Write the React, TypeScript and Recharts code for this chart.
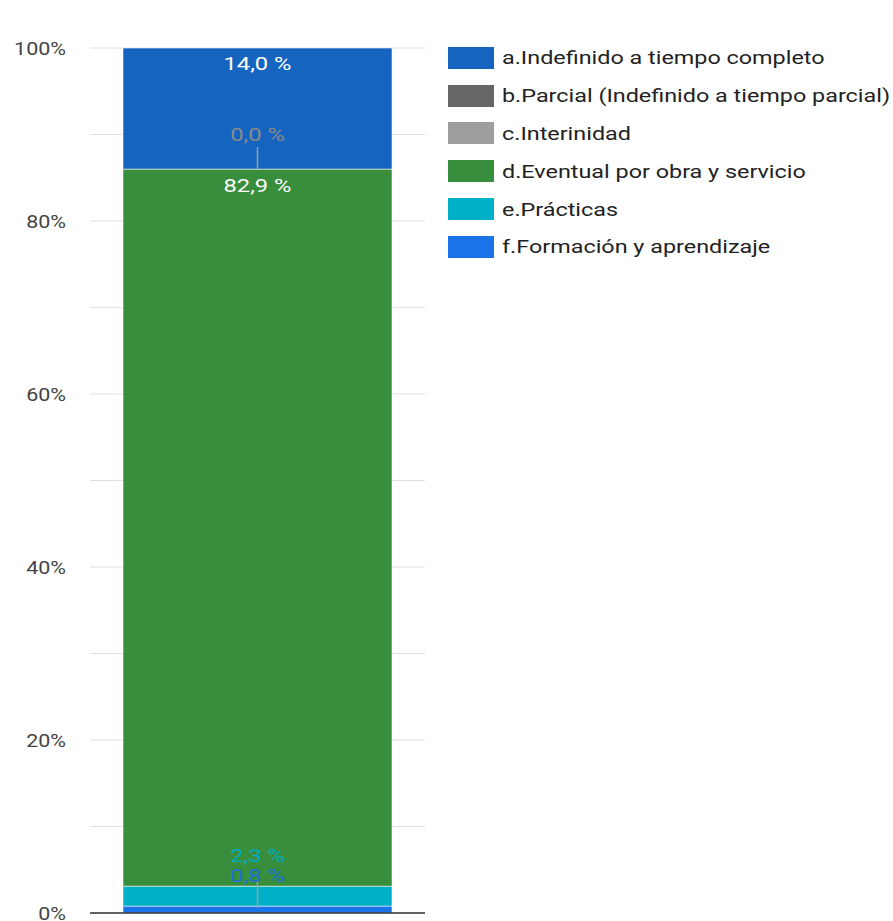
import React from 'react';
import {
  BarChart,
  Bar,
  XAxis,
  YAxis,
  CartesianGrid,
  ReferenceLine,
  ReferenceDot,
  LabelList
} from 'recharts';

const categories = ['Tipo de contrato'];
const seriesKeys = ['a', 'b', 'c', 'd', 'e', 'f'];
const seriesNames = [
  'a.Indefinido a tiempo completo',
  'b.Parcial (Indefinido a tiempo parcial)',
  'c.Interinidad',
  'd.Eventual por obra y servicio',
  'e.Prácticas',
  'f.Formación y aprendizaje',
];
const seriesValues = [14.0, 0.0, 0.0, 82.9, 2.3, 0.8];
const seriesColors = ['#1565c0', '#666666', '#9e9e9e', '#388e3c', '#00b0c6', '#1a73e8'];
const yTicks = [0, 10, 20, 30, 40, 50, 60, 70, 80, 90, 100];

const row: Record<string, string | number> = { name: categories[0] };
seriesKeys.forEach((k, i) => {
  row[k] = seriesValues[i];
});
const data = [row];

// stacked from the bottom: f first, a last
const stackOrder = [...seriesKeys].reverse();
const stackTop = (key: string) => {
  let sum = 0;
  for (const k of stackOrder) {
    sum += seriesValues[seriesKeys.indexOf(k)];
    if (k === key) break;
  }
  return sum;
};

const FONT = 'Roboto, "Noto Sans", sans-serif';
const fmt = (v: number) => `${v.toFixed(1).replace('.', ',')} %`;
const SX = 1.25; // the reference text is a bit wider than plain Roboto

const Wide = ({ x, y, color, children }: any) => (
  <g transform={`translate(${x},${y}) scale(${SX},1)`}>
    <text x={0} y={0} fill={color} fontSize={19} fontFamily={FONT}
      textAnchor="middle" dominantBaseline="central">
      {children}
    </text>
  </g>
);

const insideTop = (color: string, dy: number) => (props: any) => {
  const { x, y, width, value } = props;
  return <Wide x={x + width / 2} y={y + dy} color={color}>{fmt(value)}</Wide>;
};

const labelFor: Record<string, any> = {
  a: insideTop('#ffffff', 15),
  b: () => null,
  c: () => null,
  d: insideTop('#ffffff', 16),
  e: (props: any) => {
    const { x, y, width, value } = props;
    return <Wide x={x + width / 2} y={y - 31} color="#00acc1">{fmt(value)}</Wide>;
  },
  f: (props: any) => {
    const { x, y, width, value } = props;
    const cx = x + width / 2;
    return (
      <g>
        <line x1={cx} x2={cx} y1={y - 26} y2={y + 2} stroke="#9e9e9e" strokeWidth={1.5} />
        <Wide x={cx} y={y - 31} color="#1a6fd8">{fmt(value)}</Wide>
      </g>
    );
  },
};

// zero-height segments get no bar label, so the 0,0 % callout is placed with a reference dot
const ZeroCallout = (props: any) => {
  const { cx, cy } = props;
  return (
    <g>
      <line x1={cx} x2={cx} y1={cy - 22} y2={cy} stroke="#9e9e9e" strokeWidth={1.5} />
      <Wide x={cx} y={cy - 35} color="#8a8a8a">{fmt(seriesValues[1])}</Wide>
    </g>
  );
};

const YTick = (props: any) => {
  const { x, y, payload } = props;
  const v = payload.value as number;
  if (v % 20 !== 0) return null;
  return (
    <g transform={`translate(${x},${y}) scale(1.13,1)`}>
      <text x={0} y={0} fill="#444" fontSize={19} fontFamily={FONT}
        textAnchor="end" dominantBaseline="central">
        {`${v}%`}
      </text>
    </g>
  );
};

const App: React.FC = () => {
  return (
    <div style={{ position: 'absolute', left: 0, top: 0, width: 893, height: 921, background: '#fff' }}>
      <BarChart
        width={893}
        height={921}
        data={data}
        margin={{ top: 48, right: 468, left: 0, bottom: 8 }}
      >
        <CartesianGrid vertical={false} stroke="#e0e0e0" />
        <XAxis dataKey="name" hide />
        <YAxis
          width={90}
          domain={[0, 100]}
          ticks={yTicks}
          interval={0}
          axisLine={false}
          tickLine={false}
          tickMargin={18}
          tick={<YTick />}
        />
        {stackOrder.map((k) => {
          const i = seriesKeys.indexOf(k);
          return (
            <Bar
              key={k}
              dataKey={k}
              name={seriesNames[i]}
              stackId="s"
              fill={seriesColors[i]}
              stroke="rgba(255,255,255,0.55)"
              strokeWidth={1}
              barSize={269}
              isAnimationActive={false}
            >
              <LabelList dataKey={k} content={labelFor[k]} />
            </Bar>
          );
        })}
        <ReferenceLine y={0} stroke="#333" strokeWidth={1.5} />
        <ReferenceDot x={categories[0]} y={stackTop('b')} r={0} shape={<ZeroCallout />} />
      </BarChart>
      <div style={{ position: 'absolute', left: 448, top: 39, fontFamily: FONT, fontSize: 19, color: '#222' }}>
        {seriesKeys.map((k, i) => (
          <div key={k} style={{ display: 'flex', alignItems: 'center', height: 37.8 }}>
            <span style={{ width: 46, height: 22, background: seriesColors[i], marginRight: 8, display: 'inline-block', flexShrink: 0 }} />
            <span style={{ display: 'inline-block', transform: 'scaleX(1.23)', transformOrigin: 'left center', whiteSpace: 'nowrap' }}>
              {seriesNames[i]}
            </span>
          </div>
        ))}
      </div>
    </div>
  );
};

export default App;
